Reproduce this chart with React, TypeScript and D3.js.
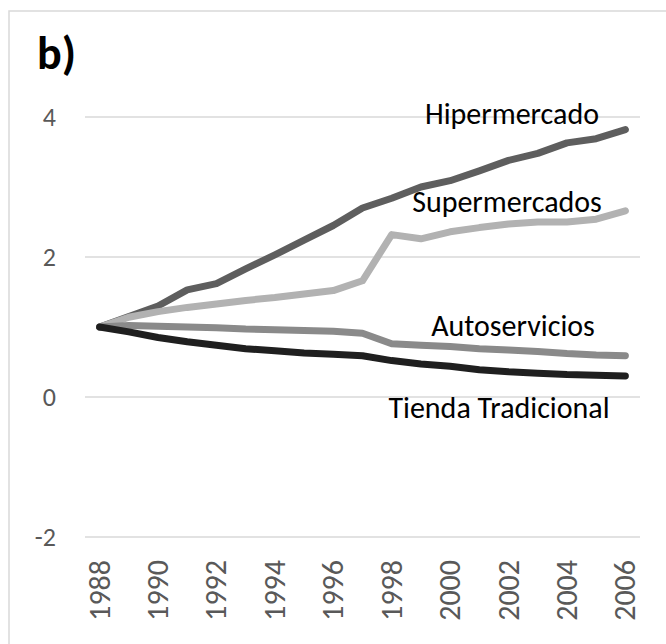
import * as d3 from "d3";

const years = ["1988", "1989", "1990", "1991", "1992", "1993", "1994", "1995", "1996", "1997",
  "1998", "1999", "2000", "2001", "2002", "2003", "2004", "2005", "2006"];
const yearTicks = ["1988", "1990", "1992", "1994", "1996", "1998", "2000", "2002", "2004", "2006"];
const yTicks = [-2, 0, 2, 4];

const hipermercado = [1.0, 1.15, 1.3, 1.53, 1.62, 1.83, 2.03, 2.24, 2.45, 2.7, 2.84, 3.0, 3.09, 3.23, 3.38, 3.48, 3.63, 3.69, 3.82];
const supermercados = [1.0, 1.14, 1.22, 1.28, 1.33, 1.38, 1.42, 1.47, 1.52, 1.66, 2.32, 2.26, 2.36, 2.42, 2.47, 2.5, 2.5, 2.54, 2.66];
const autoservicios = [1.0, 1.02, 1.01, 1.0, 0.99, 0.97, 0.96, 0.95, 0.94, 0.91, 0.76, 0.74, 0.72, 0.69, 0.67, 0.65, 0.62, 0.6, 0.59];
const tiendaTradicional = [1.0, 0.93, 0.85, 0.79, 0.74, 0.69, 0.66, 0.63, 0.61, 0.59, 0.52, 0.47, 0.44, 0.39, 0.36, 0.34, 0.32, 0.31, 0.3];

const series = [
  { name: "Hipermercado", values: hipermercado, color: "#5e5e5e", lx: 512, ly: 124 },
  { name: "Supermercados", values: supermercados, color: "#b2b2b2", lx: 507, ly: 212 },
  { name: "Autoservicios", values: autoservicios, color: "#8a8a8a", lx: 513, ly: 336 },
  { name: "Tienda Tradicional", values: tiendaTradicional, color: "#1f1f1f", lx: 499, ly: 418 },
];

const font = "Carlito, Calibri, Lato, sans-serif";

export default function App() {
  const W = 666;
  const H = 644;

  const x = d3.scalePoint<string>().domain(years).range([85, 640]).padding(0.5);
  const y = d3.scaleLinear().domain([-2, 4]).range([537, 117]);

  const line = d3
    .line<number>()
    .x((_, i) => x(years[i])!)
    .y((d) => y(d));

  return (
    <svg width={W} height={H} style={{ position: "absolute", left: 0, top: 0, background: "#fff" }}>
      <rect x={9} y={11} width={720} height={720} fill="#fff" stroke="#d9d9d9" strokeWidth={1.5} />

      <text x={37} y={69} fontFamily={font} fontWeight="bold" fontSize={46} fill="#000">
        b)
      </text>

      {yTicks.map((t) => (
        <g key={t}>
          <line x1={85} x2={640} y1={y(t)} y2={y(t)} stroke="#d9d9d9" strokeWidth={1.5} />
          <text x={56} y={y(t)} dy="0.35em" textAnchor="end" fontFamily={font} fontSize={26} fill="#595959">
            {t}
          </text>
        </g>
      ))}

      {yearTicks.map((yr) => (
        <text
          key={yr}
          transform={`translate(${x(yr)! + 10},${560}) rotate(-90)`}
          textAnchor="end"
          fontFamily={font}
          fontSize={30}
          fill="#595959"
        >
          {yr}
        </text>
      ))}

      {series.map((s) => (
        <path
          key={s.name}
          d={line(s.values)!}
          fill="none"
          stroke={s.color}
          strokeWidth={7}
          strokeLinecap="round"
          strokeLinejoin="round"
        />
      ))}

      {series.map((s) => (
        <text key={s.name + "-l"} x={s.lx} y={s.ly} textAnchor="middle" fontFamily={font} fontSize={30} fill="#000">
          {s.name}
        </text>
      ))}
    </svg>
  );
}
